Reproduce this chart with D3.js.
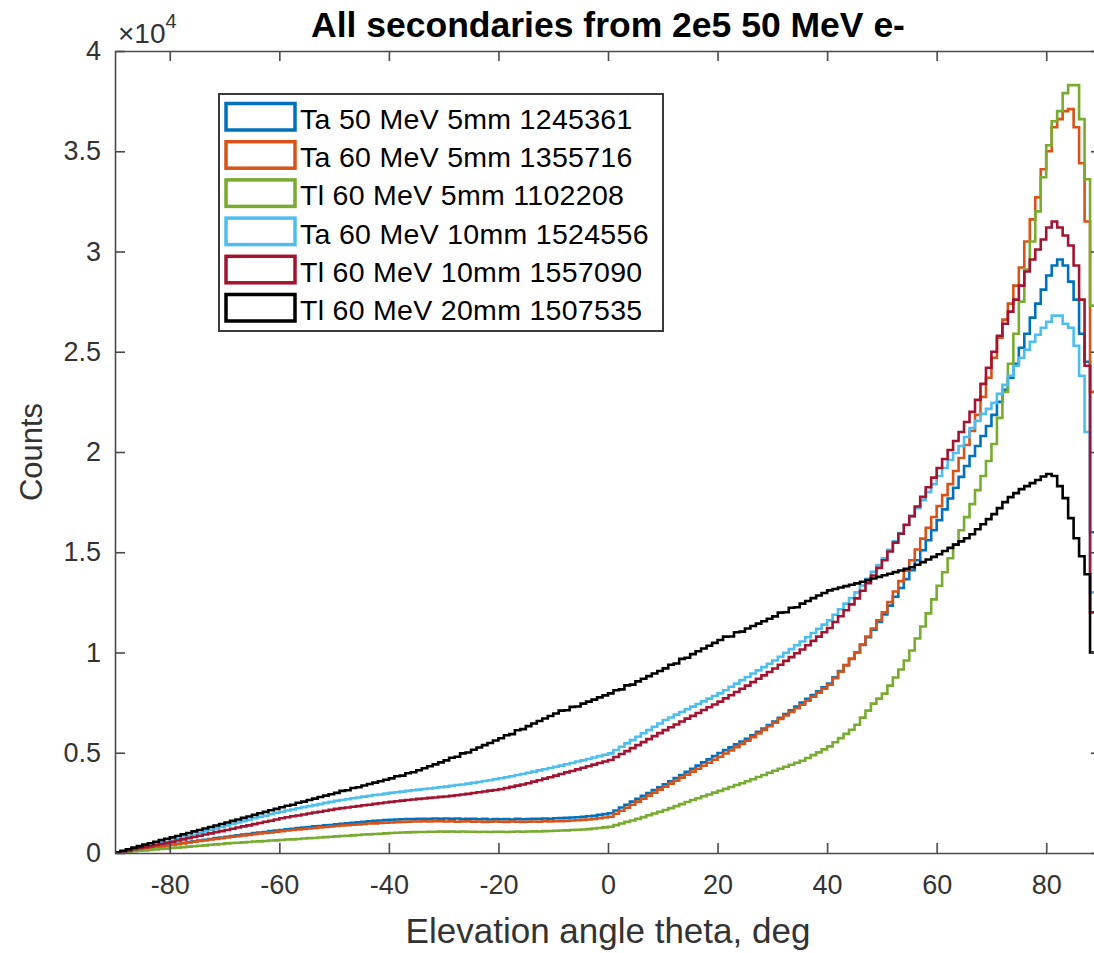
<!DOCTYPE html>
<html>
<head>
<meta charset="utf-8">
<script src="https://cdn.jsdelivr.net/npm/d3@7"></script>
<style>
  html, body { margin: 0; padding: 0; background: #ffffff; }
  svg { display: block; }
  text { font-family: "Liberation Sans", Arial, Helvetica, sans-serif; }
</style>
</head>
<body>
<div id="chart"></div>
<script>
// ---------------- DATA ----------------
// Histogram bin edges: 1 degree bins from -90 to 90
const thetaEdges = d3.range(-90, 91, 1);

const seriesNames = [
  "Ta 50 MeV 5mm 1245361",
  "Ta 60 MeV 5mm 1355716",
  "Tl 60 MeV 5mm 1102208",
  "Ta 60 MeV 10mm 1524556",
  "Tl 60 MeV 10mm 1557090",
  "Tl 60 MeV 20mm 1507535"
];
const seriesColors = ["#0072BD", "#D95319", "#77AC30", "#4DBEEE", "#A2142F", "#000000"];

const ta50_5mm = [20,60,100,140,180, 220,260,300,340,380, 420,460,500,540,580, 620,660,700,740,770, 810,850,880,920,950, 990,1020,1050,1090,1120, 1150,1180,1210,1240,1270, 1300,1330,1350,1380,1400, 1430,1460,1480,1510,1530, 1560,1580,1600,1620,1640, 1660,1670,1680,1690,1690, 1700,1710,1700,1720,1710, 1720,1700,1720,1690,1710, 1700,1680,1700,1670,1690, 1680,1690,1670,1700,1680, 1690,1710,1700,1720,1710, 1730,1740,1750,1770,1780, 1800,1830,1860,1900,1940, 1980,2120,2270,2410,2560, 2700,2850,2990,3140,3280, 3430,3580,3740,3890,4050, 4200,4360,4520,4670,4830, 4990,5130,5270,5420,5560, 5700,5870,6040,6210,6380, 6550,6740,6930,7120,7310, 7500,7690,7880,8070,8260, 8450,8760,9070,9380,9690, 10000,10380,10760,11140,11520, 11900,12340,12780,13220,13660, 14100,14600,15100,15600,16100, 16600,17140,17680,18220,18760, 19300,19800,20300,20800,21300, 21850,22500,23100,23700,24400, 25200,25900,26700,27400,28100, 28800,29300,29600,29300,28500, 27600,25900,24500,16000,5000];

const ta60_5mm = [20,60,100,140,180, 210,250,290,330,360, 400,440,480,520,560, 600,630,670,700,740, 770,810,840,870,900, 940,970,1000,1030,1060, 1090,1120,1150,1170,1200, 1230,1250,1280,1300,1330, 1350,1370,1390,1410,1430, 1450,1470,1480,1500,1510, 1520,1540,1550,1560,1570, 1570,1580,1570,1590,1580, 1570,1580,1560,1570,1580, 1560,1570,1550,1560,1570, 1560,1550,1570,1560,1550, 1560,1570,1560,1580,1570, 1580,1590,1600,1620,1630, 1650,1670,1700,1730,1770, 1810,1960,2110,2260,2410, 2560,2710,2860,3010,3160, 3310,3460,3610,3760,3910, 4060,4200,4350,4500,4650, 4800,4960,5120,5280,5440, 5600,5780,5960,6140,6320, 6500,6680,6860,7040,7220, 7400,7600,7800,8000,8200, 8400,8720,9040,9360,9680, 10000,10400,10800,11200,11600, 12000,12520,13040,13560,14080, 14600,15140,15680,16220,16760, 17300,17850,18400,19050,19700, 20350,21050,21850,22750,23700, 24700,25700,26600,27400,28300, 29200,30500,31600,32700,34100, 35000,36200,36600,37000,37100, 36200,34400,31500,23000,6000];

const tl60_5mm = [10,40,60,90,110, 130,150,180,200,220, 250,270,290,320,340, 360,380,410,430,450, 480,500,510,530,550, 570,580,600,620,630, 650,670,680,700,720, 740,750,770,790,810, 830,850,860,880,900, 920,930,950,960,980, 1000,1010,1020,1030,1040, 1050,1050,1060,1060,1070, 1065,1070,1060,1070,1060, 1060,1050,1060,1050,1060, 1060,1050,1060,1070,1060, 1070,1080,1070,1090,1100, 1110,1120,1130,1150,1160, 1170,1190,1220,1250,1280, 1310,1390,1470,1550,1620, 1700,1790,1880,1970,2060, 2145,2240,2340,2440,2540, 2640,2730,2830,2920,3010, 3100,3200,3290,3390,3480, 3580,3680,3790,3890,4000, 4100,4200,4300,4400,4500, 4600,4740,4880,5020,5170, 5320,5520,5730,5940,6150, 6400,6750,7100,7450,7700, 7950,8350,8750,9150,9600, 10100,10700,11300,11950,12650, 13330,14000,14700,15400,16100, 16750,17400,18100,18800,19550, 20400,21700,23000,24400,25900, 27500,29100,30500,32000,33700, 35300,36500,37000,37900,38300, 38300,36600,33600,27300,8000];

const ta60_10mm = [30,90,150,200,260, 320,380,440,500,560, 620,700,770,850,920, 1000,1080,1150,1230,1300, 1380,1450,1520,1590,1660, 1730,1800,1860,1930,2000, 2060,2120,2170,2230,2280, 2340,2390,2440,2500,2550, 2600,2640,2680,2730,2770, 2810,2850,2890,2920,2960, 3000,3030,3060,3100,3130, 3160,3190,3220,3250,3280, 3310,3350,3390,3420,3460, 3500,3540,3590,3630,3680, 3725,3780,3830,3890,3940, 4000,4060,4120,4180,4240, 4300,4360,4430,4490,4560, 4620,4690,4760,4830,4900, 4970,5140,5300,5470,5630, 5800,5970,6130,6300,6460, 6630,6760,6900,7030,7170, 7300,7430,7560,7700,7830, 7960,8120,8290,8450,8620, 8780,8950,9110,9270,9440, 9600,9790,9980,10170,10360, 10550,10760,10970,11180,11390, 11600,11880,12160,12440,12720, 13000,13340,13680,14020,14360, 14700,15120,15540,15960,16380, 16800,17200,17600,18000,18400, 18800,19200,19600,19950,20300, 20750,21200,21550,21900,22150, 22450,22900,23350,23800,24300, 24700,25100,25500,25850,26200, 26500,26800,26800,26400,26200, 25300,23800,21000,13000,5000];

const tl60_10mm = [30,80,130,190,240, 290,340,400,450,510, 560,620,680,740,800, 860,920,980,1040,1090, 1150,1210,1270,1330,1380, 1440,1500,1560,1610,1670, 1730,1780,1830,1870,1920, 1970,2020,2060,2110,2150, 2200,2240,2270,2310,2340, 2380,2410,2450,2480,2520, 2550,2580,2610,2640,2670, 2700,2720,2750,2770,2800, 2820,2850,2880,2920,2950, 2990,3030,3070,3110,3140, 3180,3240,3300,3360,3420, 3480,3560,3630,3710,3780, 3860,3940,4020,4090,4170, 4250,4330,4410,4490,4560, 4640,4790,4940,5080,5230, 5380,5530,5680,5830,5980, 6130,6270,6410,6560,6700, 6840,6980,7130,7270,7410, 7550,7710,7870,8030,8190, 8350,8520,8690,8860,9030, 9200,9390,9580,9770,9960, 10150,10360,10580,10790,11010, 11220,11520,11810,12110,12400, 12700,13080,13460,13840,14220, 14600,15040,15480,15920,16360, 16800,17280,17760,18240,18720, 19200,19650,20100,20550,21000, 21500,22000,22600,23400,24200, 25000,25800,26400,27000,27600, 28300,29000,29600,30100,30600, 31200,31500,31200,30800,30300, 29300,27600,24300,12000,4000];

const tl60_20mm = [40,110,190,270,345, 420,490,560,640,710, 780,850,930,1000,1080, 1150,1220,1300,1370,1450, 1520,1600,1670,1750,1820, 1900,1980,2050,2130,2200, 2280,2360,2410,2510,2560, 2640,2710,2790,2860,2930, 3000,3100,3130,3240,3280, 3370,3440,3510,3580,3650, 3720,3830,3860,3980,4030, 4130,4230,4330,4420,4520, 4620,4750,4800,4970,5010, 5150,5260,5380,5490,5610, 5720,5870,5930,6120,6180, 6330,6460,6580,6710,6830, 6960,7100,7120,7290,7310, 7450,7550,7650,7760,7860, 7960,8120,8160,8360,8400, 8560,8690,8820,8950,9080, 9210,9390,9450,9680,9740, 9920,10060,10200,10340,10480, 10620,10790,10800,11010,11040, 11200,11320,11440,11560,11680, 11800,11990,12010,12230,12260, 12440,12570,12710,12840,12970, 13100,13170,13240,13310,13380, 13450,13530,13610,13690,13770, 13850,13930,14010,14090,14170, 14250,14380,14510,14640,14770, 14900,15060,15220,15380,15540, 15700,15900,16150,16400,16650, 16900,17200,17500,17750,17950, 18150,18300,18450,18600,18780, 18900,18800,18300,17700,16700, 15700,14800,13900,10000,4000];

const allSeries = [ta50_5mm, ta60_5mm, tl60_5mm, ta60_10mm, tl60_10mm, tl60_20mm];

const xTicks = [-80, -60, -40, -20, 0, 20, 40, 60, 80];
const xTickLabels = ["-80", "-60", "-40", "-20", "0", "20", "40", "60", "80"];
const yTicks = [0, 5000, 10000, 15000, 20000, 25000, 30000, 35000, 40000];
const yTickLabels = ["0", "0.5", "1", "1.5", "2", "2.5", "3", "3.5", "4"];

const titleText = "All secondaries from 2e5 50 MeV e-";
const xLabelText = "Elevation angle theta, deg";
const yLabelText = "Counts";

// ---------------- DRAW ----------------
const W = 1094, H = 953;
const mLeft = 115, mRight = 1101, mTop = 51, mBottom = 853;
const axisColor = "#4a4a4a";
const textColor = "#333333";

const svg = d3.select("#chart").append("svg")
  .attr("width", W).attr("height", H)
  .attr("viewBox", `0 0 ${W} ${H}`);

svg.append("rect").attr("width", W).attr("height", H).attr("fill", "#fff");

const x = d3.scaleLinear().domain([-90, 90]).range([mLeft, mRight]);
const y = d3.scaleLinear().domain([0, 40000]).range([mBottom, mTop]);

svg.append("defs").append("clipPath").attr("id", "plotclip")
  .append("rect").attr("x", mLeft).attr("y", mTop - 2)
  .attr("width", mRight - mLeft).attr("height", mBottom - mTop + 2);

// stairs
const line = d3.line().x(d => x(d[0])).y(d => y(d[1])).curve(d3.curveStepAfter);
const plotG = svg.append("g").attr("clip-path", "url(#plotclip)");
allSeries.forEach((vals, i) => {
  const pts = [[thetaEdges[0], 0]];
  vals.forEach((v, k) => pts.push([thetaEdges[k], v]));
  pts.push([thetaEdges[vals.length], vals[vals.length - 1]]);
  pts.push([thetaEdges[vals.length], 0]);
  plotG.append("path").datum(pts)
    .attr("d", line)
    .attr("fill", "none")
    .attr("stroke", seriesColors[i])
    .attr("stroke-width", 2.6)
    .attr("stroke-linejoin", "miter");
});

// axes (box style, ticks inward)
const tickLen = 10;
const xAxisB = d3.axisBottom(x).tickValues(xTicks).tickSizeInner(-tickLen).tickSizeOuter(0).tickPadding(22)
  .tickFormat((d, i) => xTickLabels[i]);
const xAxisT = d3.axisTop(x).tickValues(xTicks).tickSizeInner(-tickLen).tickSizeOuter(0).tickFormat("");
const yAxisL = d3.axisLeft(y).tickValues(yTicks).tickSizeInner(-tickLen).tickSizeOuter(0).tickPadding(14)
  .tickFormat((d, i) => yTickLabels[i]);
const yAxisR = d3.axisRight(y).tickValues(yTicks).tickSizeInner(-tickLen).tickSizeOuter(0).tickFormat("");

function styleAxis(g) {
  g.select(".domain").attr("stroke", axisColor).attr("stroke-width", 1.6);
  g.selectAll(".tick line").attr("stroke", axisColor).attr("stroke-width", 1.6);
  g.selectAll(".tick text").attr("fill", textColor).attr("font-size", 27)
    .attr("font-family", "'Liberation Sans', Arial, sans-serif");
}
svg.append("g").attr("transform", `translate(0,${mBottom})`).call(xAxisB).call(styleAxis);
svg.append("g").attr("transform", `translate(0,${mTop})`).call(xAxisT).call(styleAxis);
svg.append("g").attr("transform", `translate(${mLeft},0)`).call(yAxisL).call(styleAxis);
svg.append("g").attr("transform", `translate(${mRight},0)`).call(yAxisR).call(styleAxis);

// exponent label
const expT = svg.append("text").attr("x", 118).attr("y", 43).attr("fill", textColor).attr("font-size", 28);
expT.append("tspan").text("\u00D710");
expT.append("tspan").attr("font-size", 20).attr("dy", -15).text("4");

// title
svg.append("text").attr("x", (mLeft + mRight) / 2).attr("y", 37)
  .attr("text-anchor", "middle").attr("font-weight", "bold").attr("font-size", 35.5)
  .attr("fill", "#000").text(titleText);

// axis labels
svg.append("text").attr("x", (mLeft + mRight) / 2).attr("y", 943)
  .attr("text-anchor", "middle").attr("font-size", 35).attr("fill", textColor).text(xLabelText);
svg.append("text").attr("transform", `translate(42,${(mTop + mBottom) / 2}) rotate(-90)`)
  .attr("text-anchor", "middle").attr("font-size", 31).attr("fill", textColor).text(yLabelText);

// legend
const lg = svg.append("g");
lg.append("rect").attr("x", 219).attr("y", 94).attr("width", 444).attr("height", 237)
  .attr("fill", "#fff").attr("stroke", "#3a3a3a").attr("stroke-width", 2);
const rowH = 38.2;
seriesNames.forEach((name, i) => {
  lg.append("rect").attr("x", 226).attr("y", 103.5 + rowH * i).attr("width", 69).attr("height", 26.5)
    .attr("fill", "#fff").attr("stroke", seriesColors[i]).attr("stroke-width", 3.5);
  lg.append("text").attr("x", 300).attr("y", 129 + rowH * i).attr("font-size", 28.5)
    .attr("letter-spacing", 0.3).attr("fill", "#000").text(name);
});
</script>
</body>
</html>
